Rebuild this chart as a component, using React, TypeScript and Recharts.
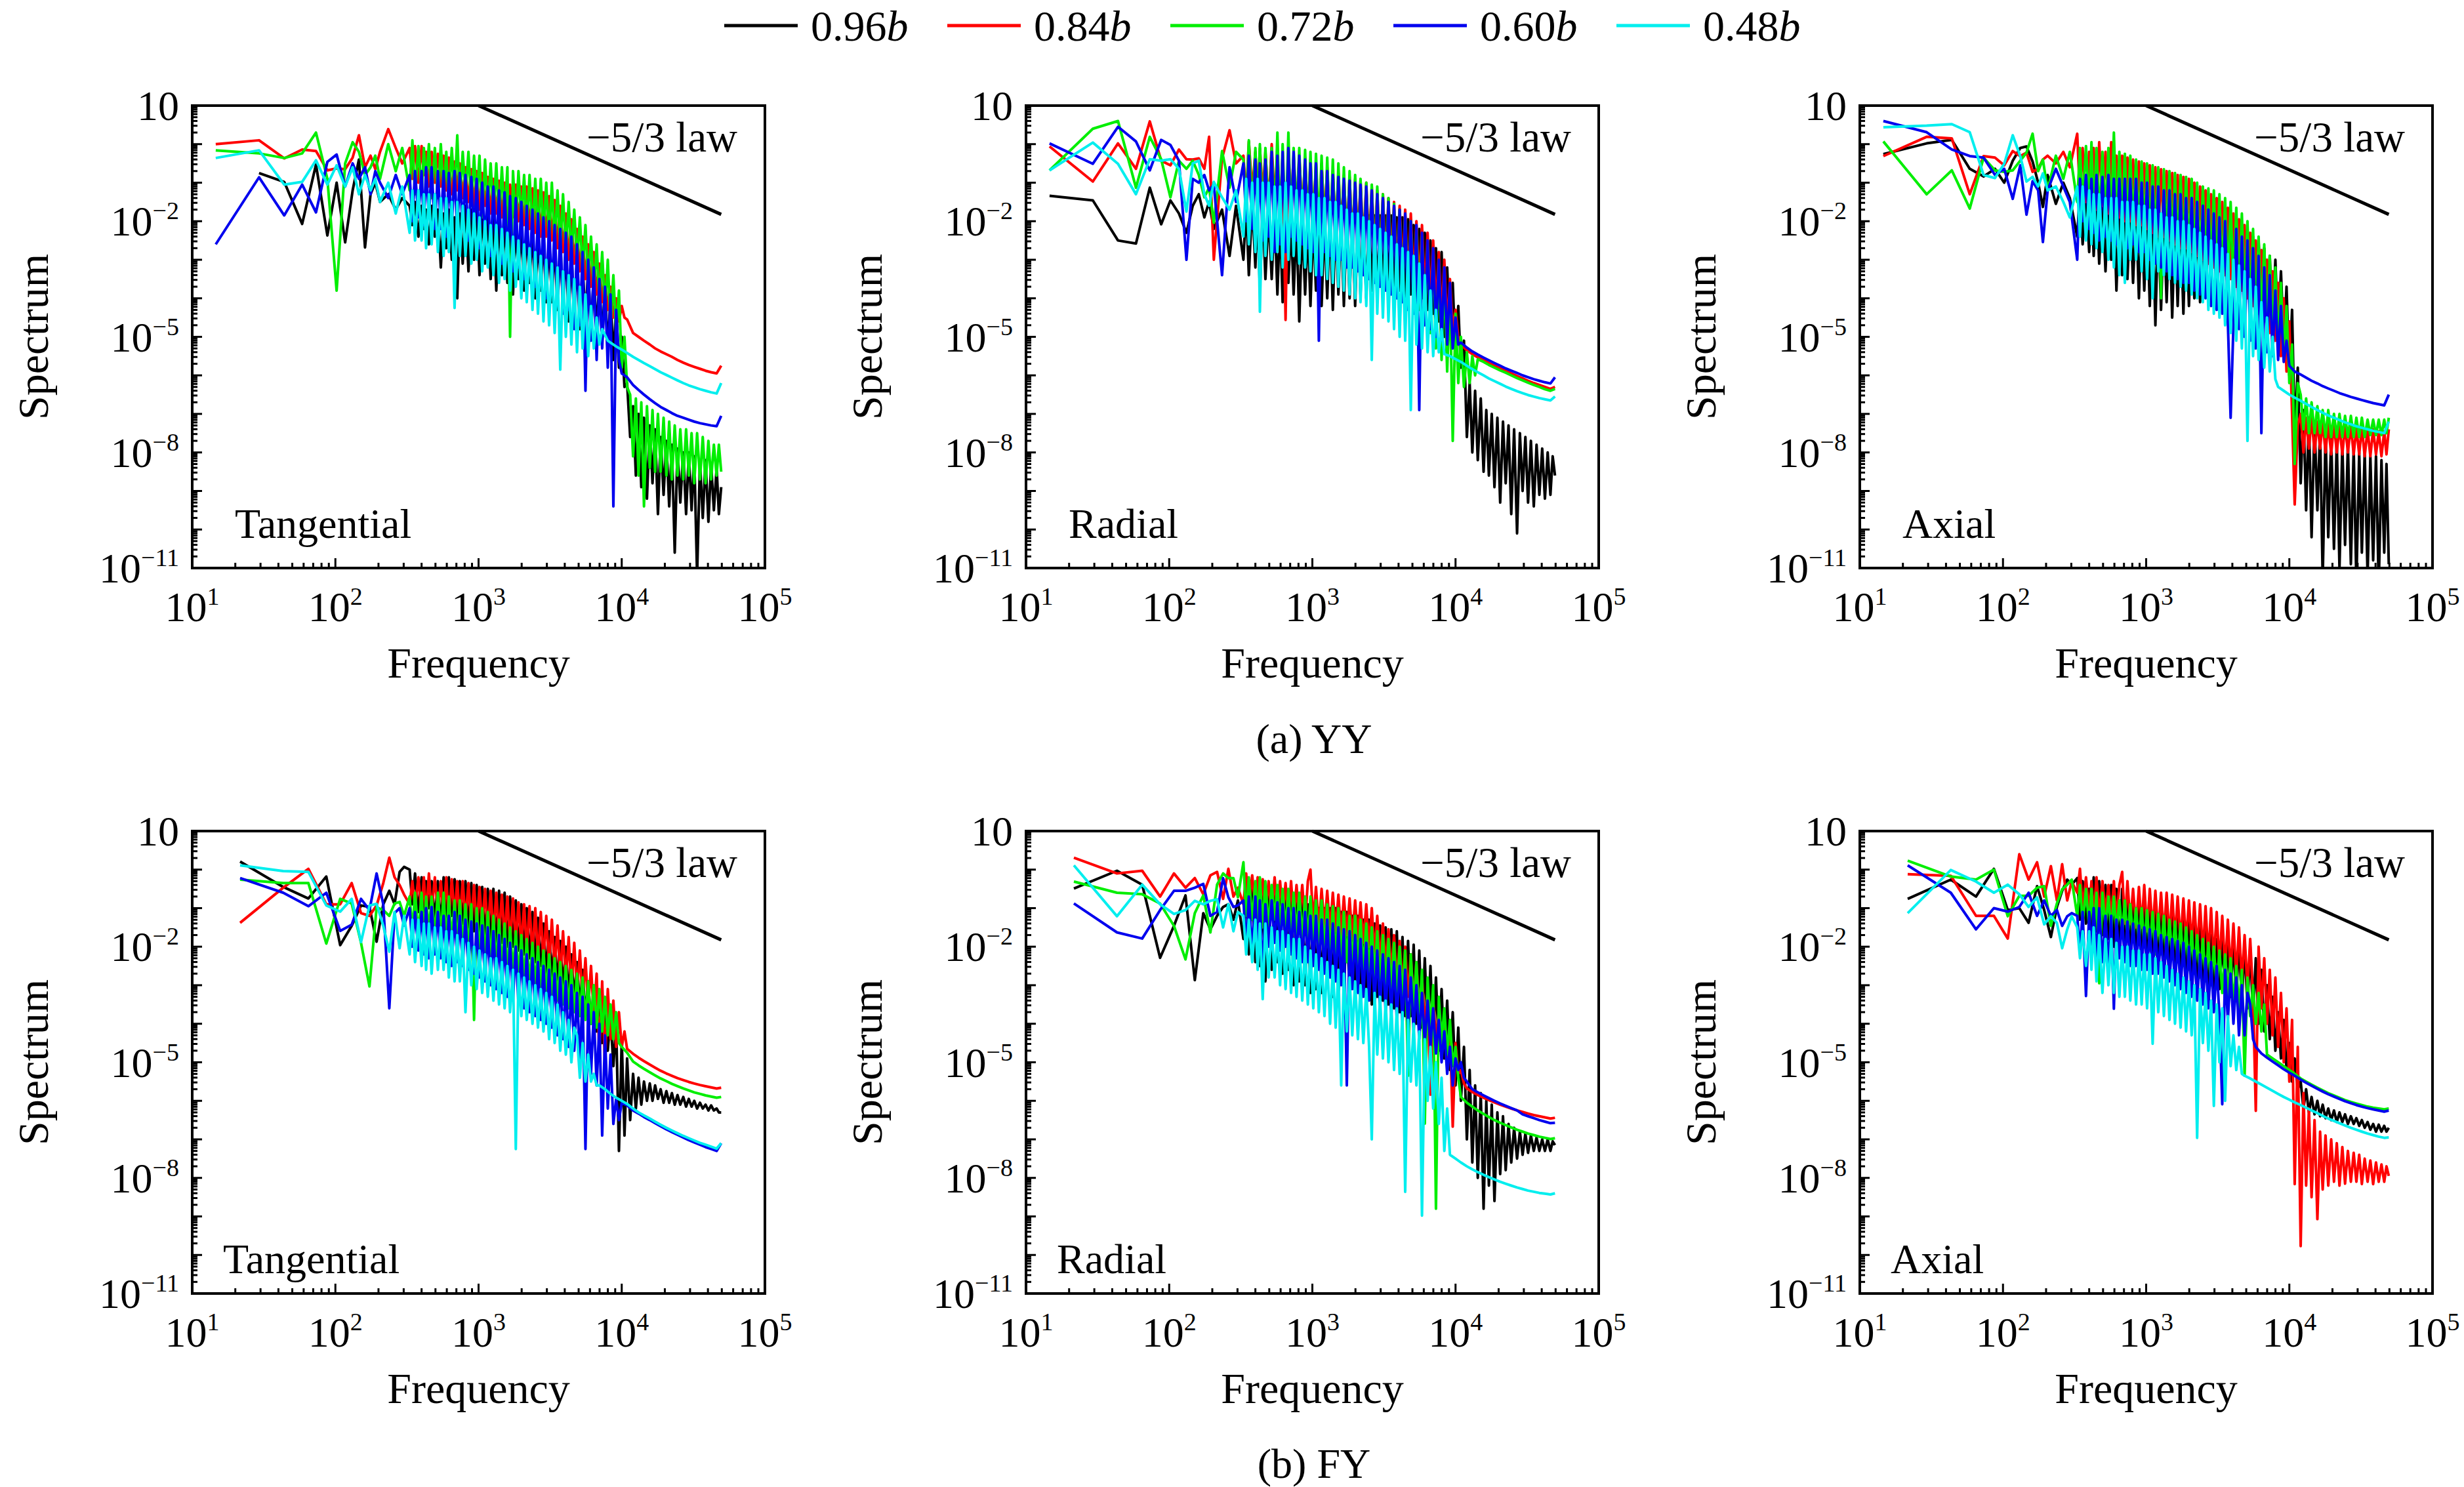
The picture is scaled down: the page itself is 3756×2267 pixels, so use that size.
import React from "react";
import { LineChart, Line, XAxis, YAxis, ReferenceArea, ReferenceLine } from "recharts";

const SERIF = '"Liberation Serif", "Times New Roman", Times, serif';
const W = 3756;
const H = 2267;

// frequency samples (Hz): low-frequency bins per case, shared high-frequency samples
const LF_YY = [14.6, 29.3, 43.9, 58.6, 73.2, 87.9, 102, 117, 132, 146, 161, 176, 190, 205, 234, 264, 293];
const LF_FY = [21.6, 43.2, 64.8, 86.4, 108, 130, 151, 173, 194, 216, 238, 259, 281, 302];
const HF = [
  330, 345, 360, 380, 400, 415, 430, 450, 470, 495,
  520, 545, 570, 595, 620, 650, 680, 710, 740, 775,
  810, 850, 890, 930, 970, 1015, 1060, 1110, 1160, 1215,
  1270, 1330, 1390, 1455, 1520, 1590, 1660, 1740, 1820, 1900,
  1990, 2080, 2170, 2270, 2380, 2490, 2600, 2720, 2840, 2970,
  3110, 3250, 3400, 3560, 3720, 3890, 4070, 4260, 4450, 4660,
  4870, 5100, 5330, 5580, 5830, 6100, 6380, 6680, 6980, 7300,
  7640, 7990, 8350, 8740, 9140, 9560, 10000, 10450, 10900, 11450,
  12000, 12550, 13100, 13700, 14300, 15000, 15700, 16400, 17100, 17900,
  18700, 19600, 20500, 21450, 22400, 23450, 24500, 25650, 26900, 28150,
  29400, 30750, 32100, 33600, 35200, 36800, 38500, 40300, 42100, 44000,
  46000, 47700, 49500,
];

// log10(spectrum); null = no sample drawn there
// (a) YY - Tangential
const yyTanK = [null, -0.75, -0.98, -2.07, -0.53, -2.37, -1.0, -2.55, -1.2, -0.4, -2.68, -1.3, -1.0, -1.5, -1.3, -1.7, -1.4,
  -1.6, -2.1, -1.5, -2.4, -1.6, -2.2, -1.7, -2.6, -1.6, -2.4,
  -1.7, -3.2, -1.8, -2.7, -1.7, -3.0, -1.9, -4.0, -1.8, -3.1,
  -1.6, -3.3, -1.7, -3.0, -1.6, -3.4, -1.7, -3.1, -1.8, -3.5,
  -1.8, -3.8, -1.9, -3.4, -1.9, -3.6, -2.0, -3.9, -2.0, -3.5,
  -2.1, -3.8, -2.1, -3.6, -2.2, -4.0, -2.3, -3.8, -2.3, -4.1,
  -2.4, -4.1, -2.5, -4.3, -2.5, -4.2, -2.7, -4.6, -2.8, -4.4,
  -3.0, -4.8, -3.1, -4.6, -3.2, -5.0, -3.3, -4.9, -3.5, -5.1,
  -3.6, -5.4, -3.9, -5.6, -4.2, -5.8, -5.0, -6.3, -6.2, -7.6,
  -6.8, -8.6, -7.0, -8.9, -7.1, -9.2, -7.3, -8.8, -7.4, -9.6,
  -7.6, -9.1, -7.7, -9.4, -7.8, -10.6, -7.9, -9.3, -8.0, -9.6,
  -8.0, -9.5, -8.1, -11.2, -8.2, -9.7, -8.2, -9.8, -8.3, -9.5,
  -8.4, -9.6, -8.9];
const yyTanR = [0.0, 0.1, -0.37, -0.14, -0.18, -0.68, -0.63, -0.65, -0.35, 0.23, -0.6, -0.3, -0.65, -0.2, 0.39, -0.1, -0.5,
  -0.1, -0.9, -0.05, -1.0, -0.05, -0.8, -0.2, -1.1, -0.2, -1.0,
  -0.25, -1.1, -0.3, -1.2, -0.35, -1.3, -0.45, -1.2, -0.5, -1.4,
  -0.6, -1.5, -0.65, -1.6, -0.7, -1.7, -0.75, -1.6, -0.85, -1.8,
  -0.9, -1.8, -0.95, -1.9, -1.0, -2.0, -1.05, -1.9, -1.05, -2.0,
  -1.1, -2.1, -1.1, -2.2, -1.15, -2.3, -1.2, -2.4, -1.25, -2.4,
  -1.35, -2.5, -1.45, -2.7, -1.6, -2.8, -1.8, -3.0, -1.95, -3.1,
  -2.2, -3.3, -2.4, -3.5, -2.6, -3.7, -2.8, -3.9, -3.1, -4.1,
  -3.4, -4.3, -3.7, -4.5, -4.0, -4.6, -4.2, -4.5, -4.55, null,
  -4.9, null, -5.0, null, -5.1, null, -5.2, null, -5.3, null,
  -5.38, null, -5.45, null, -5.52, null, -5.6, null, -5.67, null,
  -5.73, null, -5.78, null, -5.83, null, -5.88, null, -5.92, null,
  -5.95, null, -5.75];
const yyTanG = [-0.16, -0.24, -0.36, -0.24, 0.3, -0.9, -3.8, -0.5, 0.05, -0.2, -0.8, -0.6, -0.3, -0.9, 0.0, -0.7, -0.1,
  -1.2, 0.1, -1.3, -0.05, -1.3, -0.1, -1.0, 0.0, -1.4, -0.1,
  -1.4, 0.0, -1.3, -0.2, -1.5, -0.1, -1.3, 0.23, -1.5, -0.2,
  -1.3, -0.2, -1.6, -0.3, -1.5, -0.3, -1.9, -0.4, -1.7, -0.5,
  -1.8, -0.5, -2.0, -0.6, -1.9, -0.6, -5.0, -0.7, -2.1, -0.7,
  -2.0, -0.8, -2.2, -0.8, -2.3, -0.9, -2.4, -0.9, -2.4, -1.0,
  -2.5, -1.0, -2.6, -1.2, -2.7, -1.3, -2.8, -1.5, -2.9, -1.7,
  -3.1, -1.9, -3.3, -2.1, -3.6, -2.4, -3.8, -2.6, -4.1, -2.8,
  -4.3, -3.0, -4.7, -3.4, -4.9, -3.8, -5.8, -5.0, -6.3, -6.5,
  -8.1, -6.6, -8.6, -6.7, -9.4, -6.8, -8.4, -6.9, -8.5, -7.0,
  -8.5, -7.1, -8.6, -7.2, -8.7, -7.3, -8.6, -7.4, -8.7, -7.4,
  -8.6, -7.5, -8.8, -7.5, -8.7, -7.6, -8.8, -7.7, -8.7, -7.8,
  -8.6, -7.8, -8.5];
const yyTanB = [-2.6, -0.86, -1.85, -1.05, -1.77, -0.46, -0.27, -1.1, -0.5, -0.9, -0.6, -1.3, -0.7, -1.0, -1.4, -0.8, -1.3,
  -0.8, -2.0, -0.7, -1.9, -0.7, -2.1, -0.6, -1.9, -0.6, -2.2,
  -0.7, -2.2, -0.7, -2.4, -0.75, -2.1, -0.7, -2.3, -0.75, -2.2,
  -0.8, -2.5, -0.85, -2.4, -0.9, -2.7, -1.0, -2.6, -1.1, -2.9,
  -1.1, -2.8, -1.2, -3.1, -1.25, -3.0, -1.35, -3.3, -1.4, -3.2,
  -1.5, -3.5, -1.6, -3.4, -1.7, -3.7, -1.8, -3.6, -1.9, -4.0,
  -2.0, -3.9, -2.1, -4.2, -2.2, -4.4, -2.3, -4.3, -2.4, -4.8,
  -2.6, -4.7, -2.8, -6.4, -3.0, -5.1, -3.2, -5.6, -3.5, -5.3,
  -3.7, -5.8, -3.9, -9.4, -4.3, -5.6, -5.95, null, -6.05, null,
  -6.25, null, -6.38, null, -6.5, null, -6.62, null, -6.72, null,
  -6.82, null, -6.9, null, -6.98, null, -7.05, null, -7.1, null,
  -7.15, null, -7.2, null, -7.24, null, -7.27, null, -7.3, null,
  -7.32, null, -7.05];
const yyTanC = [-0.36, -0.16, -1.05, -0.98, -0.42, -1.05, -0.55, -1.1, -0.6, -1.3, -0.8, -1.2, -0.9, -1.5, -1.0, -1.8, -1.1,
  -2.3, -1.2, -2.5, -1.2, -2.5, -1.3, -2.7, -1.3, -2.6, -1.3,
  -2.8, -1.4, -2.9, -1.4, -2.8, -1.5, -4.25, -1.5, -2.9, -1.6,
  -2.9, -1.7, -3.1, -1.8, -3.0, -1.9, -3.3, -2.0, -3.2, -2.1,
  -3.4, -2.1, -3.6, -2.2, -3.5, -2.3, -3.8, -2.4, -3.7, -2.5,
  -4.0, -2.6, -4.1, -2.7, -4.3, -2.8, -4.4, -2.9, -4.6, -3.0,
  -4.7, -3.1, -4.9, -3.2, -5.85, -3.3, -5.0, -3.4, -5.2, -3.5,
  -5.4, -3.7, -5.3, -3.9, -5.5, -4.2, -5.3, -4.5, -5.2, -4.8,
  -4.95, -5.1, -5.15, null, -5.25, null, -5.33, null, -5.42, null,
  -5.52, null, -5.6, null, -5.68, null, -5.76, null, -5.84, null,
  -5.92, null, -5.99, null, -6.06, null, -6.13, null, -6.2, null,
  -6.26, null, -6.31, null, -6.36, null, -6.4, null, -6.44, null,
  -6.47, null, -6.2];

// (a) YY - Radial
const yyRadK = [-1.34, -1.46, -2.5, -2.58, -1.13, -2.08, -1.46, -1.8, -2.3, -1.6, -1.3, -1.9, -1.5, -2.2, -1.7, -2.9, -1.6,
  -3.0, -1.6, -3.4, -1.5, -3.2, -1.7, -3.8, -1.6, -3.5, -1.8,
  -3.5, -1.8, -3.9, -1.9, -4.1, -1.8, -3.6, -2.0, -3.9, -2.0,
  -4.6, -2.0, -3.9, -2.1, -4.2, -2.0, -3.8, -2.1, -4.2, -2.0,
  -4.0, -1.9, -4.3, -1.9, -3.9, -1.9, -4.2, -1.9, -4.0, -1.9,
  -4.2, -1.9, -3.9, -1.9, -4.0, -1.85, -3.8, -1.85, -3.9, -1.85,
  -3.8, -1.85, -3.7, -1.85, -3.9, -1.9, -3.8, -1.9, -4.0, -1.95,
  -3.9, -2.1, -4.1, -2.2, -4.0, -2.3, -4.3, -2.5, -4.4, -2.7,
  -4.6, -2.8, -5.0, -3.2, -4.9, -3.6, -5.5, -4.2, -5.8, -5.1,
  -7.6, -6.2, -8.0, -6.4, -8.2, -6.6, -8.5, -6.9, -8.6, -7.0,
  -8.9, -7.1, -9.3, -7.2, -8.8, -7.3, -9.6, -7.4, -10.1, -7.5,
  -9.0, -7.6, -9.3, -7.7, -9.4, -7.8, -9.1, -7.9, -9.2, -8.0,
  -9.1, -8.1, -8.6];
const yyRadR = [-0.06, -0.97, 0.02, -0.64, 0.59, -0.43, -0.55, -0.14, -0.39, -0.4, -0.37, -0.64, 0.19, -3.0, -0.37, 0.36, -0.5,
  -0.3, -1.4, 0.07, -1.2, -0.2, -1.5, -0.1, -1.3, -0.2, -1.6,
  0.0, -1.5, -0.2, -1.8, -0.3, -4.56, -0.1, -1.6, -0.3, -1.7,
  -0.3, -1.8, -0.35, -1.9, -0.4, -2.0, -0.5, -2.1, -0.5, -2.0,
  -0.6, -2.2, -0.7, -2.3, -0.75, -2.2, -0.8, -2.4, -0.85, -2.5,
  -0.9, -2.5, -0.95, -2.6, -1.0, -2.7, -1.1, -2.8, -1.2, -2.9,
  -1.3, -3.0, -1.4, -3.1, -1.5, -3.2, -1.6, -3.3, -1.7, -3.5,
  -1.8, -3.6, -2.0, -3.7, -2.1, -3.9, -2.3, -4.1, -2.5, -4.3,
  -2.8, -4.5, -3.0, -4.7, -3.5, -4.8, -4.3, -5.0, -5.2, null,
  -5.35, null, -5.45, null, -5.53, null, -5.6, null, -5.68, null,
  -5.75, null, -5.82, null, -5.88, null, -5.95, null, -6.02, null,
  -6.08, null, -6.14, null, -6.2, null, -6.25, null, -6.3, null,
  -6.35, null, -6.3];
const yyRadG = [-0.68, 0.4, 0.6, -1.13, 0.19, -0.39, -1.38, -0.43, -0.64, -0.43, -0.8, -1.38, -1.13, -2.04, -0.18, -1.13, -0.2,
  -0.4, -1.6, 0.1, -1.7, -0.1, -1.8, 0.0, -2.0, -0.1, -1.9,
  -0.1, -2.0, 0.3, -2.2, 0.0, -2.3, 0.3, -2.1, -0.1, -1.9,
  -0.1, -2.2, -0.15, -2.3, -0.2, -2.4, -0.25, -2.3, -0.3, -2.5,
  -0.35, -2.6, -0.4, -2.7, -0.5, -2.7, -0.6, -2.8, -0.7, -2.9,
  -0.8, -3.0, -0.9, -3.0, -1.0, -3.1, -1.05, -3.2, -1.1, -3.3,
  -1.3, -3.4, -1.4, -3.5, -1.55, -3.6, -1.7, -3.8, -1.85, -3.9,
  -2.0, -4.1, -2.2, -4.3, -2.4, -4.6, -2.6, -4.9, -2.9, -5.3,
  -3.1, -5.6, -3.4, -5.9, -3.8, -7.7, -4.4, -6.2, -5.0, -6.3,
  -5.4, -6.2, -5.5, -6.0, -5.58, null, -5.65, null, -5.73, null,
  -5.8, null, -5.87, null, -5.93, null, -6.0, null, -6.07, null,
  -6.13, null, -6.19, null, -6.25, null, -6.3, null, -6.36, null,
  -6.4, null, -6.35];
const yyRadB = [0.02, -0.51, 0.45, 0.07, -0.68, 0.11, -0.02, -0.43, -3.0, -0.9, -1.0, -0.8, -1.2, -1.05, -3.4, -0.6, -1.5,
  -0.5, -2.0, -0.3, -2.2, -0.4, -2.3, -0.5, -2.5, -0.4, -2.4,
  -0.2, -2.8, -0.3, -2.6, -0.2, -2.8, -0.1, -2.4, -0.2, -2.5,
  -0.3, -2.6, -0.4, -2.7, -0.5, -2.8, -0.5, -5.1, -0.7, -2.8,
  -0.7, -2.9, -0.8, -3.0, -0.85, -3.0, -0.9, -3.2, -0.95, -3.2,
  -1.0, -3.3, -1.05, -3.4, -1.1, -3.5, -1.2, -3.6, -1.3, -3.7,
  -1.4, -3.8, -1.5, -3.9, -1.6, -4.0, -1.7, -4.1, -1.8, -4.3,
  -2.0, -4.4, -2.1, -6.9, -2.3, -4.7, -2.5, -4.8, -2.7, -5.0,
  -3.0, -5.1, -3.2, -5.2, -3.6, -5.3, -4.5, -5.2, -5.15, null,
  -5.28, null, -5.38, null, -5.46, null, -5.54, null, -5.61, null,
  -5.68, null, -5.75, null, -5.82, null, -5.88, null, -5.94, null,
  -6.0, null, -6.05, null, -6.1, null, -6.14, null, -6.18, null,
  -6.21, null, -6.05];
const yyRadC = [-0.68, 0.04, -0.51, -1.3, -0.39, -0.43, -0.39, -0.64, -1.75, -0.5, -0.43, -1.3, -1.6, -0.98, -1.38, -1.7, -1.2,
  -2.4, -0.9, -2.6, -1.0, -2.8, -0.9, -4.35, -1.0, -2.9, -1.0,
  -3.0, -1.1, -2.8, -1.1, -3.2, -1.0, -3.0, -1.1, -2.9, -1.2,
  -3.1, -1.2, -3.2, -1.3, -3.3, -1.3, -3.4, -1.4, -3.4, -1.4,
  -3.5, -1.5, -3.6, -1.5, -3.7, -1.6, -3.8, -1.7, -3.9, -1.8,
  -4.0, -1.8, -4.1, -1.9, -4.2, -2.0, -5.6, -2.1, -4.4, -2.2,
  -4.5, -2.3, -4.6, -2.4, -4.8, -2.6, -5.0, -2.7, -5.1, -2.8,
  -6.9, -2.9, -5.2, -3.1, -5.3, -3.4, -5.4, -3.8, -5.5, -4.3,
  -5.4, -4.8, -5.45, null, -5.5, null, -5.58, null, -5.65, null,
  -5.75, null, -5.84, null, -5.92, null, -6.0, null, -6.08, null,
  -6.15, null, -6.22, null, -6.29, null, -6.35, null, -6.41, null,
  -6.46, null, -6.51, null, -6.55, null, -6.59, null, -6.62, null,
  -6.65, null, -6.55];

// (a) YY - Axial
const yyAxK = [-0.26, 0.02, 0.11, -0.64, -0.84, -0.64, -1.0, -0.43, -0.1, -0.06, -0.45, -1.0, -1.63, -0.8, -1.55, -1.0, -1.4,
  -2.4, -1.2, -2.6, -1.3, -2.8, -1.3, -2.9, -1.4, -3.1, -1.4,
  -3.3, -1.5, -3.0, -1.5, -3.8, -1.6, -3.4, -1.6, -3.5, -1.7,
  -3.6, -1.7, -4.0, -1.8, -3.8, -1.8, -4.2, -1.8, -4.7, -1.9,
  -4.3, -1.9, -4.1, -1.9, -4.5, -2.0, -4.2, -2.0, -4.4, -2.0,
  -4.2, -2.0, -4.0, -2.0, -4.1, -2.0, -3.9, -2.0, -3.8, -1.95,
  -3.9, -1.95, -3.8, -1.95, -3.9, -1.95, -4.0, -2.0, -4.0, -2.1,
  -4.1, -2.2, -4.2, -2.4, -4.3, -2.5, -4.5, -2.7, -4.6, -2.9,
  -4.8, -3.0, -5.0, -3.3, -5.2, -3.7, -6.0, -4.3, -7.5, -5.8,
  -8.8, -6.9, -9.5, -7.1, -10.2, -7.2, -9.5, -7.4, -11.3, -7.5,
  -10.2, -7.6, -10.5, -7.7, -11.0, -7.8, -10.4, -7.8, -10.9, -7.9,
  -11.4, -8.0, -10.6, -8.0, -11.2, -8.1, -10.8, -8.1, -11.5, -8.2,
  -10.6, -8.3, -10.9];
const yyAxR = [-0.31, 0.19, 0.15, -1.3, -0.31, -0.35, -0.55, -0.18, -0.31, -0.22, -0.72, -0.64, -0.4, -0.3, -0.5, -0.2, -0.6,
  0.27, -1.4, -0.1, -1.5, -0.2, -1.5, -0.1, -1.7, 0.05, -1.6,
  -0.2, -1.8, 0.05, -1.7, -0.3, -1.9, -0.3, -2.0, -0.35, -2.0,
  -0.4, -2.1, -0.45, -2.1, -0.5, -2.2, -0.55, -2.3, -0.6, -2.4,
  -0.65, -2.4, -0.7, -2.5, -0.75, -2.6, -0.8, -2.7, -0.85, -2.7,
  -0.9, -2.8, -1.0, -2.9, -1.1, -3.0, -1.2, -3.1, -1.3, -3.2,
  -1.4, -3.3, -1.5, -3.4, -1.65, -3.5, -1.8, -3.7, -1.95, -3.8,
  -2.1, -4.0, -2.3, -4.2, -2.5, -4.4, -2.75, -4.6, -3.0, -4.9,
  -3.3, -5.1, -3.6, -5.5, -4.0, -5.9, -4.6, -7.0, -9.35, -7.3,
  -7.0, -8.0, -7.1, -7.9, -7.1, -8.0, -7.2, -7.9, -7.2, -8.0,
  -7.25, -8.05, -7.25, -8.0, -7.3, -8.05, -7.3, -8.0, -7.3, -8.05,
  -7.35, -8.05, -7.35, -8.1, -7.4, -8.1, -7.4, -8.05, -7.45, -8.1,
  -7.45, -8.05, -7.4];
const yyAxG = [0.07, -1.3, -0.68, -1.67, -0.35, -0.68, -0.72, -0.68, -0.43, -0.22, 0.27, -0.7, -0.4, -1.2, -0.3, -0.9, -0.2,
  -1.5, -0.1, -1.6, -0.05, -1.7, 0.05, -1.8, -0.1, -1.9, -0.2,
  -1.8, -0.1, -2.0, 0.3, -1.9, -0.2, -2.0, -0.25, -2.1, -0.3,
  -2.1, -0.4, -2.2, -0.45, -2.3, -0.5, -2.4, -0.55, -2.4, -0.6,
  -4.0, -0.65, -2.5, -0.7, -2.6, -0.75, -2.7, -0.8, -2.8, -0.85,
  -2.9, -0.9, -3.0, -1.0, -3.1, -1.1, -3.2, -1.15, -3.3, -1.2,
  -3.4, -1.3, -3.5, -1.4, -3.6, -1.5, -3.7, -1.65, -3.8, -1.8,
  -4.0, -2.0, -4.2, -2.2, -4.4, -2.4, -4.6, -2.6, -4.8, -2.9,
  -5.0, -3.2, -5.3, -3.6, -5.6, -4.2, -6.2, -5.2, -8.3, -6.2,
  -6.5, -7.4, -6.6, -7.5, -6.7, -7.5, -6.8, -7.5, -6.9, -7.6,
  -6.9, -7.6, -7.0, -7.6, -7.0, -7.6, -7.05, -7.6, -7.05, -7.6,
  -7.1, -7.6, -7.1, -7.6, -7.15, -7.55, -7.15, -7.55, -7.15, -7.55,
  -7.15, -7.5, -7.1];
const yyAxB = [0.6, 0.31, -0.14, -0.31, -0.35, -0.8, -0.64, -1.42, -0.55, -1.83, -0.96, -1.2, -2.54, -1.2, -0.64, -1.1, -1.5,
  -3.0, -0.9, -2.0, -0.8, -2.2, -0.9, -2.3, -0.8, -2.5, -0.85,
  -2.4, -0.8, -2.5, -0.9, -2.6, -0.9, -2.4, -0.9, -2.7, -0.9,
  -2.6, -0.9, -2.8, -1.0, -2.8, -1.0, -3.0, -1.1, -3.1, -1.1,
  -3.2, -1.2, -3.3, -1.2, -3.4, -1.3, -3.5, -1.3, -3.6, -1.4,
  -3.6, -1.4, -3.8, -1.5, -3.9, -1.6, -4.0, -1.7, -4.2, -1.8,
  -4.3, -1.9, -4.4, -2.0, -4.6, -7.1, -4.7, -2.2, -4.8, -2.4,
  -5.0, -2.5, -5.1, -2.7, -5.3, -2.9, -7.5, -3.2, -5.4, -3.4,
  -5.5, -3.8, -5.6, -4.2, -5.65, -5.1, -5.75, null, -5.9, null,
  -5.98, null, -6.06, null, -6.14, null, -6.21, null, -6.28, null,
  -6.34, null, -6.4, null, -6.46, null, -6.51, null, -6.56, null,
  -6.6, null, -6.64, null, -6.68, null, -6.72, null, -6.75, null,
  -6.78, null, -6.5];
const yyAxC = [0.44, 0.48, 0.52, 0.31, -0.8, -0.88, -0.51, 0.23, -0.31, -0.97, -0.85, -1.1, -0.76, -1.2, -1.1, -1.5, -1.9,
  -1.1, -2.4, -1.1, -2.5, -1.2, -2.6, -1.3, -2.7, -1.3, -2.8,
  -1.4, -3.0, -1.4, -3.2, -1.4, -3.4, -1.5, -3.6, -1.5, -3.0,
  -1.5, -3.0, -1.6, -3.3, -1.6, -3.5, -1.7, -4.0, -1.7, -3.3,
  -1.8, -3.4, -1.9, -3.5, -1.9, -3.6, -2.0, -3.7, -2.0, -3.8,
  -2.1, -3.9, -2.2, -4.0, -2.3, -4.1, -2.4, -4.3, -2.5, -4.4,
  -2.6, -4.5, -2.7, -4.7, -2.85, -4.9, -3.0, -5.1, -3.15, -5.3,
  -3.3, -7.7, -3.5, -5.5, -3.7, -5.6, -4.1, -5.8, -4.5, -5.9,
  -5.0, -6.1, -6.3, null, -6.4, null, -6.5, null, -6.58, null,
  -6.66, null, -6.74, null, -6.82, null, -6.9, null, -6.97, null,
  -7.04, null, -7.1, null, -7.16, null, -7.22, null, -7.27, null,
  -7.32, null, -7.36, null, -7.4, null, -7.44, null, -7.47, null,
  -7.5, null, -7.2];

// (b) FY - Tangential
const fyTanK = [0.21, -0.45, -0.75, -0.18, -1.96, -1.46, -0.93, -0.97, -1.87, -0.9, -0.55, -0.9, -0.06, 0.07,
  0.0, -0.9, -0.1, -1.1, -0.2, -1.2, -0.3, -1.0, -0.3, -1.3,
  -0.3, -1.5, -0.2, -1.4, -0.2, -1.2, -0.25, -1.5, -0.3, -1.4,
  -0.3, -1.5, -0.35, -1.6, -0.4, -1.6, -0.45, -1.8, -0.5, -1.8,
  -0.5, -1.9, -0.55, -1.9, -0.6, -2.0, -0.7, -2.0, -0.8, -2.1,
  -0.9, -2.2, -1.0, -2.3, -1.1, -2.4, -1.25, -2.5, -1.4, -2.7,
  -1.6, -2.8, -1.75, -3.0, -1.85, -3.1, -2.0, -3.3, -2.2, -3.4,
  -2.4, -3.6, -2.6, -3.8, -2.9, -4.0, -3.1, -4.2, -3.3, -4.5,
  -3.6, -4.7, -3.8, -5.1, -4.0, -7.3, -4.4, -6.9, -4.9, -6.5,
  -5.3, -6.2, -5.4, -6.1, -5.5, -6.0, -5.55, -6.0, -5.6, -5.95,
  -5.7, -6.05, -5.75, -6.05, -5.8, -6.1, -5.85, -6.1, -5.9, -6.15,
  -5.95, -6.15, -6.0, -6.2, -6.05, -6.2, -6.1, -6.25, -6.12, -6.25,
  -6.2, -6.3, -6.3];
const fyTanR = [-1.38, -0.47, 0.02, -0.9, -0.9, -0.35, -1.13, -1.2, -0.93, -0.35, 0.31, -0.2, -0.4, -0.65,
  -0.9, -0.3, -1.0, -0.2, -1.1, -0.2, -1.2, -0.1, -1.1, -0.2,
  -1.1, -0.3, -1.2, -0.2, -1.3, -0.25, -1.2, -0.3, -1.3, -0.3,
  -1.3, -0.35, -1.4, -0.4, -1.5, -0.45, -1.5, -0.5, -1.6, -0.55,
  -1.7, -0.6, -1.7, -0.65, -1.8, -0.7, -1.9, -0.75, -1.9, -0.85,
  -2.0, -0.9, -2.1, -0.95, -2.2, -1.0, -2.3, -1.1, -2.4, -1.2,
  -2.5, -1.3, -2.6, -1.45, -2.8, -1.6, -2.9, -1.75, -3.1, -1.9,
  -3.2, -2.1, -3.4, -2.3, -3.6, -2.5, -3.8, -2.7, -4.9, -2.9,
  -5.1, -3.1, -4.4, -3.4, -4.6, -3.7, -4.6, -4.2, -4.65, null,
  -4.78, null, -4.88, null, -4.97, null, -5.06, null, -5.14, null,
  -5.22, null, -5.29, null, -5.35, null, -5.41, null, -5.46, null,
  -5.51, null, -5.55, null, -5.59, null, -5.62, null, -5.65, null,
  -5.68, null, -5.66];
const fyTanG = [-0.26, -0.35, -0.35, -1.92, -0.76, -0.88, -1.9, -3.03, -0.98, -1.05, -1.2, -0.88, -0.84, -1.2,
  -0.7, -1.6, -0.6, -1.7, -0.6, -1.8, -0.7, -1.6, -0.7, -1.7,
  -0.6, -1.8, -0.6, -1.9, -0.7, -1.9, -0.8, -2.0, -0.8, -2.0,
  -0.9, -2.1, -0.9, -3.9, -1.0, -2.2, -1.0, -2.3, -1.1, -2.4,
  -1.2, -2.5, -1.3, -2.6, -1.4, -2.7, -1.5, -2.7, -1.6, -2.8,
  -1.7, -2.9, -1.8, -3.0, -1.9, -3.05, -2.0, -3.1, -2.1, -3.2,
  -2.2, -3.3, -2.3, -3.4, -2.4, -3.5, -2.5, -3.6, -2.6, -3.7,
  -2.7, -3.8, -2.8, -3.9, -2.9, -4.0, -3.0, -4.1, -3.1, -4.2,
  -3.3, -4.3, -3.5, -4.4, -3.7, -4.5, -4.6, null, -4.75, null,
  -4.98, null, -5.08, null, -5.17, null, -5.26, null, -5.34, null,
  -5.42, null, -5.49, null, -5.56, null, -5.62, null, -5.68, null,
  -5.73, null, -5.78, null, -5.82, null, -5.86, null, -5.89, null,
  -5.92, null, -5.9];
const fyTanB = [-0.22, -0.6, -0.95, -0.6, -1.59, -1.43, -0.76, -1.05, -0.1, -0.9, -3.6, -1.13, -1.0, -1.45,
  -1.0, -2.0, -1.1, -2.1, -1.1, -2.2, -1.0, -2.3, -0.97, -2.2,
  -1.1, -2.3, -1.2, -2.4, -1.2, -2.5, -1.1, -2.4, -1.2, -2.5,
  -1.3, -2.6, -1.35, -2.7, -1.4, -2.8, -1.45, -2.9, -1.5, -3.0,
  -1.6, -3.1, -1.7, -3.2, -1.8, -3.3, -1.9, -3.4, -2.0, -3.5,
  -2.1, -3.6, -2.2, -3.7, -2.3, -3.8, -2.4, -3.9, -2.5, -4.0,
  -2.6, -4.1, -2.7, -4.3, -2.8, -4.4, -2.9, -4.6, -3.0, -4.7,
  -3.2, -4.9, -3.3, -7.25, -3.5, -5.3, -3.7, -5.6, -4.0, -6.9,
  -4.3, -6.2, -4.8, -6.6, -5.95, -6.5, -6.05, null, -6.12, null,
  -6.25, null, -6.33, null, -6.42, null, -6.5, null, -6.58, null,
  -6.66, null, -6.74, null, -6.81, null, -6.88, null, -6.95, null,
  -7.02, null, -7.08, null, -7.14, null, -7.2, null, -7.25, null,
  -7.3, null, -7.1];
const fyTanC = [0.11, -0.04, -0.06, -0.93, -1.09, -0.76, -1.88, -0.93, -0.89, -1.46, -2.13, -1.1, -2.04, -1.2,
  -2.2, -1.3, -2.4, -1.3, -2.5, -1.4, -2.6, -1.4, -2.7, -1.5,
  -2.6, -1.5, -2.6, -1.6, -2.8, -1.6, -2.9, -1.7, -2.9, -1.8,
  -3.7, -1.9, -3.0, -2.0, -3.1, -2.1, -3.2, -2.2, -3.3, -2.3,
  -3.4, -2.3, -3.5, -2.4, -3.6, -2.5, -3.7, -2.6, -7.25, -2.7,
  -3.8, -2.8, -3.9, -2.9, -4.0, -3.0, -4.1, -3.1, -4.2, -3.2,
  -4.4, -3.3, -4.5, -3.5, -4.7, -3.7, -4.8, -3.9, -5.0, -4.1,
  -4.3, -5.4, -4.5, -5.5, -4.8, -5.5, -5.3, -5.6, -5.6, null,
  -5.7, null, -5.82, null, -5.92, null, -6.0, null, -6.08, null,
  -6.2, null, -6.3, null, -6.38, null, -6.46, null, -6.54, null,
  -6.62, null, -6.7, null, -6.77, null, -6.84, null, -6.91, null,
  -6.97, null, -7.03, null, -7.09, null, -7.14, null, -7.19, null,
  -7.24, null, -7.1];

// (b) FY - Radial
const fyRadK = [-0.49, -0.03, -0.39, -2.29, -1.46, -0.67, -2.87, -1.13, -1.55, -1.2, -0.97, -0.9, -1.3, -0.8,
  -1.8, -0.5, -2.2, -0.5, -2.4, -0.6, -2.5, -0.6, -2.9, -0.7,
  -2.6, -0.5, -2.4, -0.6, -2.7, -0.6, -2.6, -0.7, -3.0, -0.8,
  -2.9, -0.8, -3.0, -0.9, -3.2, -0.9, -3.1, -1.0, -3.2, -1.0,
  -3.0, -1.0, -3.3, -1.0, -3.4, -1.1, -3.2, -1.1, -3.3, -1.2,
  -3.2, -1.2, -3.5, -1.3, -3.4, -1.3, -3.5, -1.4, -3.3, -1.45,
  -3.4, -1.5, -3.5, -1.55, -3.6, -1.6, -3.7, -1.75, -3.8, -1.85,
  -3.8, -1.95, -4.0, -2.1, -4.1, -2.3, -4.3, -2.5, -4.5, -2.8,
  -4.7, -3.1, -4.9, -3.4, -5.2, -3.7, -5.6, -4.1, -6.0, -4.6,
  -7.0, -5.2, -7.6, -5.6, -8.0, -5.8, -8.8, -6.0, -8.2, -6.1,
  -8.6, -6.3, -7.9, -6.4, -7.8, -6.6, -7.6, -6.7, -7.5, -6.8,
  -7.4, -6.85, -7.35, -6.9, -7.3, -6.95, -7.3, -7.0, -7.3, -7.0,
  -7.3, -7.05, -7.15];
const fyRadR = [0.31, -0.1, -0.03, -0.7, -0.1, -0.47, -0.22, -0.64, -0.15, -0.06, -0.76, 0.02, -0.7, -0.47,
  -0.9, -0.1, -1.0, -0.15, -1.0, -0.2, -1.1, -0.25, -1.1, -0.3,
  -1.2, -0.2, -1.1, -0.3, -1.2, -0.35, -1.3, -0.3, -1.3, -0.4,
  -1.3, -0.4, -1.4, -0.3, 0.0, -1.4, -0.45, -1.5, -0.5, -1.5,
  -0.55, -1.6, -0.6, -1.6, -0.65, -1.7, -0.7, -1.7, -0.75, -1.8,
  -0.8, -1.8, -0.85, -1.9, -0.9, -2.0, -1.0, -2.2, -1.2, -2.4,
  -1.4, -2.5, -1.55, -2.7, -1.7, -2.9, -1.85, -3.1, -2.0, -3.3,
  -2.2, -3.5, -2.4, -3.7, -2.8, -4.0, -3.2, -5.84, -3.4, -4.4,
  -3.7, -4.7, -3.9, -5.0, -4.1, -6.67, -4.5, -5.3, -5.2, -5.55,
  -5.68, null, -5.77, null, -5.85, null, -5.92, null, -5.98, null,
  -6.04, null, -6.1, null, -6.15, null, -6.2, null, -6.25, null,
  -6.29, null, -6.33, null, -6.37, null, -6.4, null, -6.43, null,
  -6.46, null, -6.44];
const fyRadG = [-0.31, -0.6, -0.64, -0.88, -1.46, -2.33, -1.13, -0.67, -1.63, -0.39, -0.1, -0.22, -0.22, -0.72,
  0.19, -1.2, -0.2, -1.3, -0.3, -1.4, -0.2, -1.5, -0.3, -1.5,
  -0.4, -1.3, -0.4, -1.5, -0.5, -1.6, -0.5, -1.7, -0.6, -1.7,
  -0.6, -1.8, -0.7, -1.9, -0.7, -1.9, -0.8, -2.0, -0.8, -2.1,
  -0.9, -2.2, -0.95, -2.3, -1.0, -2.4, -1.1, -2.4, -1.2, -2.5,
  -1.2, -2.5, -1.3, -2.6, -1.4, -2.7, -1.5, -2.8, -1.6, -2.9,
  -1.7, -3.0, -1.8, -3.1, -1.9, -3.2, -2.0, -3.3, -2.1, -5.35,
  -2.2, -3.6, -2.4, -3.9, -2.6, -6.59, -2.8, -4.2, -3.0, -8.8,
  -3.3, -4.5, -3.6, -4.8, -3.9, -5.1, -4.6, -5.4, -5.9, null,
  -6.05, null, -6.15, null, -6.25, null, -6.34, null, -6.42, null,
  -6.5, null, -6.57, null, -6.63, null, -6.69, null, -6.75, null,
  -6.8, null, -6.85, null, -6.89, null, -6.93, null, -6.96, null,
  -6.99, null, -6.97];
const fyRadB = [-0.88, -1.63, -1.79, -1.05, -0.55, -0.55, -0.47, -0.37, -1.2, -1.1, -0.22, -0.72, -0.97, -0.93,
  -0.8, -2.0, -0.7, -2.1, -0.7, -2.3, -0.8, -2.79, -0.9, -2.0,
  -0.8, -1.9, -0.85, -2.1, -0.9, -2.0, -1.0, -2.2, -1.0, -2.3,
  -1.1, -2.4, -1.1, -2.4, -1.2, -2.5, -1.2, -2.6, -1.3, -2.7,
  -1.3, -2.8, -1.4, -2.9, -1.5, -3.0, -1.55, -5.6, -1.6, -3.1,
  -1.7, -3.2, -1.8, -3.3, -1.9, -3.4, -2.0, -3.5, -2.1, -3.6,
  -2.2, -3.7, -2.3, -3.8, -2.4, -3.9, -2.5, -4.0, -2.6, -4.1,
  -2.8, -4.2, -3.0, -4.4, -3.2, -4.5, -3.4, -4.6, -3.6, -4.77,
  -3.9, -5.0, -4.2, -5.3, -4.6, -5.6, -4.9, -5.2, -5.0, -5.4,
  -5.5, null, -5.7, null, -5.78, null, -5.86, null, -5.93, null,
  -6.0, null, -6.07, null, -6.13, null, -6.19, null, -6.25, null,
  -6.35, null, -6.4, null, -6.45, null, -6.5, null, -6.54, null,
  -6.58, null, -6.57];
const fyRadC = [0.11, -1.21, -0.39, -0.9, -1.15, -1.05, -0.81, -0.9, -0.81, -0.77, -1.5, -0.9, -1.6, -1.1,
  -1.2, -2.2, -1.3, -2.4, -1.3, -2.6, -1.4, -3.36, -1.4, -2.8,
  -1.5, -2.8, -1.6, -3.0, -1.6, -3.1, -1.7, -3.2, -1.8, -3.3,
  -1.8, -3.4, -2.0, -3.5, -2.1, -3.6, -2.2, -3.7, -2.3, -3.8,
  -2.4, -4.0, -2.5, -4.1, -2.6, -5.6, -2.7, -4.2, -2.8, -4.3,
  -2.9, -4.4, -3.0, -4.5, -3.1, -4.6, -7.0, -3.2, -4.8, -3.3,
  -4.9, -3.4, -5.0, -3.5, -5.2, -3.6, -5.3, -3.7, -8.36, -3.9,
  -5.5, -4.0, -5.6, -4.2, -8.98, -4.4, -6.0, -4.6, -6.2, -5.0,
  -6.6, -5.4, -7.3, -6.2, -7.4, null, -7.5, null, -7.6, null,
  -7.7, null, -7.78, null, -7.85, null, -7.92, null, -7.98, null,
  -8.04, null, -8.1, null, -8.15, null, -8.2, null, -8.25, null,
  -8.29, null, -8.33, null, -8.36, null, -8.39, null, -8.41, null,
  -8.43, null, -8.4];

// (b) FY - Axial
const fyAxK = [-0.76, -0.26, -0.7, 0.02, -1.05, -1.0, -1.38, -0.43, -1.05, -1.75, -0.97, -0.55, -0.26, -0.39,
  -0.22, -1.3, -0.3, -1.4, -0.5, -1.5, -0.2, -1.6, -0.3, -1.7,
  -0.4, -1.8, -0.4, -2.0, -0.5, -2.1, -0.5, -2.2, -0.6, -2.2,
  -0.7, -2.1, -0.75, -2.2, -0.8, -2.3, -0.85, -2.3, -0.9, -2.4,
  -1.0, -2.5, -1.0, -2.6, -1.05, -2.6, -1.1, -2.5, -1.15, -2.7,
  -1.2, -2.8, -1.3, -2.9, -1.4, -3.0, -1.5, -3.0, -1.7, -3.1,
  -1.8, -3.1, -1.85, -3.2, -1.85, -3.3, -1.75, -3.4, -1.75, -3.5,
  -1.9, -3.6, -2.0, -3.8, -2.3, -4.0, -2.6, -4.2, -3.0, -4.4,
  -3.3, -4.7, -3.7, -4.9, -3.9, -5.2, -4.5, -5.5, -4.9, -5.7,
  -5.5, -6.2, -5.7, -6.3, -5.9, -6.35, -6.0, -6.4, -6.1, -6.45,
  -6.2, -6.5, -6.25, -6.55, -6.3, -6.55, -6.35, -6.6, -6.4, -6.6,
  -6.45, -6.65, -6.5, -6.7, -6.55, -6.75, -6.6, -6.8, -6.62, -6.8,
  -6.65, -6.8, -6.7];
const fyAxR = [-0.12, -0.16, -1.2, -1.2, -1.79, 0.4, -0.26, 0.19, -0.7, 0.09, -0.8, 0.14, -0.8, -0.3,
  -0.6, 0.02, -1.0, -0.2, -1.1, -0.3, -1.2, -0.2, -1.2, -0.3,
  -1.1, -0.4, -1.3, -0.3, -1.3, -0.4, -0.06, -1.4, -0.3, -1.4,
  -0.5, -1.5, -0.45, -1.5, -0.4, -1.6, -0.5, -1.6, -0.55, -1.7,
  -0.6, -1.7, -0.6, -1.8, -0.65, -1.8, -0.7, -1.9, -0.75, -1.9,
  -0.8, -2.0, -0.85, -2.1, -0.9, -2.2, -0.95, -2.3, -1.0, -2.4,
  -1.1, -2.5, -1.2, -2.6, -1.3, -2.7, -1.4, -2.8, -1.5, -2.9,
  -1.7, -3.1, -1.8, -3.3, -6.26, -2.0, -3.6, -2.3, -4.0, -2.6,
  -4.3, -2.8, -4.6, -3.2, -5.0, -3.6, -5.5, -3.9, -8.16, -4.6,
  -9.77, -5.8, -8.2, -6.2, -8.5, -6.5, -9.07, -6.8, -8.3, -6.9,
  -8.2, -7.0, -8.1, -7.1, -8.2, -7.2, -8.15, -7.3, -8.1, -7.35,
  -8.1, -7.4, -8.16, -7.5, -8.1, -7.55, -8.16, -7.6, -8.1, -7.65,
  -8.1, -7.7, -7.95];
const fyAxG = [0.23, -0.18, -0.26, 0.0, -1.21, -0.68, -0.68, -0.47, -0.43, -1.46, -0.88, -0.51, -0.39, -0.26,
  -1.2, -0.4, -1.4, -0.5, -1.5, -0.5, -1.6, -0.6, -2.95, -0.6,
  -1.5, -0.7, -1.6, -0.7, -1.6, -0.8, -1.7, -0.8, -1.8, -0.9,
  -1.8, -1.0, -1.9, -1.0, -2.0, -1.05, -2.1, -1.1, -2.2, -1.15,
  -2.2, -1.2, -2.3, -1.3, -2.3, -1.35, -2.4, -1.4, -2.5, -1.5,
  -2.6, -1.6, -2.7, -1.7, -2.8, -1.8, -2.9, -1.9, -3.0, -2.0,
  -3.1, -2.1, -3.2, -2.2, -3.3, -2.3, -3.5, -2.5, -3.6, -2.6,
  -5.35, -2.8, -3.8, -3.0, -4.0, -3.2, -4.2, -3.5, -4.8, null,
  -4.9, null, -5.0, null, -5.1, null, -5.2, null, -5.3, null,
  -5.42, null, -5.5, null, -5.58, null, -5.66, null, -5.73, null,
  -5.8, null, -5.86, null, -5.92, null, -5.98, null, -6.03, null,
  -6.07, null, -6.11, null, -6.15, null, -6.18, null, -6.2, null,
  -6.22, null, -6.2];
const fyAxB = [0.11, -0.6, -1.55, -1.0, -1.09, -0.97, -0.6, -1.2, -0.8, -1.2, -1.05, -1.46, -1.21, -1.13,
  -1.2, -2.1, -1.1, -3.28, -1.1, -2.2, -1.0, -2.3, -1.0, -2.4,
  -1.2, -2.5, -1.2, -3.61, -1.3, -2.3, -1.3, -2.4, -1.35, -2.5,
  -1.4, -2.5, -1.45, -2.6, -1.5, -2.6, -1.55, -2.7, -1.6, -2.7,
  -1.7, -2.8, -1.75, -2.9, -1.8, -3.0, -1.85, -3.1, -1.9, -3.2,
  -2.0, -3.3, -2.1, -3.4, -2.2, -3.5, -2.3, -3.6, -2.4, -3.7,
  -2.5, -3.8, -6.09, -2.6, -3.9, -2.7, -4.0, -2.8, -4.3, -3.0,
  -4.3, -3.2, -3.5, -4.4, -4.6, null, -4.77, null, -4.88, null,
  -4.98, null, -5.08, null, -5.18, null, -5.27, null, -5.35, null,
  -5.45, null, -5.53, null, -5.61, null, -5.69, null, -5.76, null,
  -5.83, null, -5.89, null, -5.95, null, -6.01, null, -6.06, null,
  -6.11, null, -6.15, null, -6.19, null, -6.22, null, -6.25, null,
  -6.28, null, -6.25];
const fyAxC = [-1.13, -0.01, -0.31, -0.6, -0.39, -0.64, -0.97, -0.72, -1.42, -1.21, -1.38, -2.04, -1.55, -1.21,
  -1.5, -2.3, -1.6, -2.5, -1.6, -2.6, -1.5, -2.9, -1.7, -3.2,
  -1.8, -3.0, -1.8, -3.2, -1.9, -3.3, -2.0, -3.3, -2.0, -3.4,
  -2.1, -3.5, -2.1, -3.5, -2.2, -3.6, -2.2, -4.52, -2.3, -3.7,
  -2.4, -3.8, -2.5, -3.9, -2.6, -4.0, -2.7, -4.1, -2.8, -4.2,
  -2.9, -4.3, -3.0, -6.96, -3.1, -4.5, -3.2, -4.7, -3.4, -6.13,
  -3.5, -5.0, -3.6, -6.0, -3.8, -5.1, -4.3, -5.2, -4.6, -5.3,
  -5.35, null, -5.42, null, -5.5, null, -5.58, null, -5.66, null,
  -5.74, null, -5.82, null, -5.9, null, -5.97, null, -6.04, null,
  -6.11, null, -6.18, null, -6.25, null, -6.32, null, -6.39, null,
  -6.46, null, -6.52, null, -6.58, null, -6.64, null, -6.7, null,
  -6.75, null, -6.8, null, -6.85, null, -6.89, null, -6.93, null,
  -6.96, null, -6.95];

// -5/3 law reference segment (frequency, spectrum)
const LAW_F = [1000, 49500];
const LAW_S = [10, 0.015];

const X_DECADES = [10, 100, 1000, 10000, 100000];
const Y_DECADES = [1e-11, 1e-10, 1e-9, 1e-8, 1e-7, 1e-6, 1e-5, 1e-4, 1e-3, 1e-2, 1e-1, 1, 10];
const Y_LABELLED = [1, -2, -5, -8, -11];
const MINOR = [2, 3, 4, 5, 6, 7, 8, 9];
const X_TICKS = [...X_DECADES, ...X_DECADES.slice(0, -1).flatMap((d) => MINOR.map((m) => m * d))];
const Y_TICKS = [...Y_DECADES, ...Y_DECADES.slice(0, -1).flatMap((d) => MINOR.map((m) => m * d))];

const SERIES = [
  { key: "k", label: "0.96", color: "#000000" },
  { key: "r", label: "0.84", color: "#ff0000" },
  { key: "g", label: "0.72", color: "#00ee00" },
  { key: "b", label: "0.60", color: "#0000ee" },
  { key: "c", label: "0.48", color: "#00eeee" },
];

const F_YY = [...LF_YY, ...HF];
const F_FY = [...LF_FY, ...HF];

const PANELS = [
  { name: "Tangential", row: 0, col: 0, freq: F_YY, values: [yyTanK, yyTanR, yyTanG, yyTanB, yyTanC] },
  { name: "Radial", row: 0, col: 1, freq: F_YY, values: [yyRadK, yyRadR, yyRadG, yyRadB, yyRadC] },
  { name: "Axial", row: 0, col: 2, freq: F_YY, values: [yyAxK, yyAxR, yyAxG, yyAxB, yyAxC] },
  { name: "Tangential", row: 1, col: 0, freq: F_FY, values: [fyTanK, fyTanR, fyTanG, fyTanB, fyTanC] },
  { name: "Radial", row: 1, col: 1, freq: F_FY, values: [fyRadK, fyRadR, fyRadG, fyRadB, fyRadC] },
  { name: "Axial", row: 1, col: 2, freq: F_FY, values: [fyAxK, fyAxR, fyAxG, fyAxB, fyAxC] },
];

// layout (px)
const PLOT_LEFT = [293, 1564, 2835];
const PLOT_TOP = [161, 1267];
const PLOT_W = 873;
const PLOT_H = 705;
const Y_W = 230;
const X_H = 110;
const M_TOP = 60;
const M_RIGHT = 60;

function buildRows(freq: number[], values: (number | null)[][]) {
  return freq.map((f, i) => {
    const row: Record<string, number | null> = { f };
    SERIES.forEach((s, j) => {
      const v = values[j][i];
      row[s.key] = v == null ? null : Math.pow(10, v);
    });
    return row;
  });
}

function Pow10({ x, y, exp, anchor }: { x: number; y: number; exp: number; anchor: "middle" | "end" }) {
  const sup = exp < 0 ? `\u2212${-exp}` : `${exp}`;
  return (
    <text x={x} y={y} textAnchor={anchor} fontFamily={SERIF} fontSize={64} fill="#000">
      <tspan>10</tspan>
      <tspan fontSize={38} dy={-25}>{sup}</tspan>
    </text>
  );
}

function XTick(props: any) {
  const { x, y, payload } = props;
  const major = X_DECADES.includes(payload.value);
  const exp = Math.round(Math.log10(payload.value));
  return (
    <g>
      <line x1={x} x2={x} y1={y} y2={y - (major ? 15 : 8)} stroke="#000" strokeWidth={3} />
      {major && <Pow10 x={x} y={y + 81} exp={exp} anchor="middle" />}
    </g>
  );
}

function YTick(props: any) {
  const { x, y, payload } = props;
  const major = Y_DECADES.includes(payload.value);
  const exp = Math.round(Math.log10(payload.value));
  const labelled = major && Y_LABELLED.includes(exp);
  return (
    <g>
      <line x1={x} x2={x + (major ? 15 : 8)} y1={y} y2={y} stroke="#000" strokeWidth={3} />
      {labelled && exp === 1 && (
        <text x={x - 20} y={y + 22} textAnchor="end" fontFamily={SERIF} fontSize={64} fill="#000">
          10
        </text>
      )}
      {labelled && exp !== 1 && <Pow10 x={x - 20} y={y + 22} exp={exp} anchor="end" />}
    </g>
  );
}

function Panel({ p }: { p: (typeof PANELS)[number] }) {
  const rows = buildRows(p.freq, p.values);
  return (
    <div style={{ position: "absolute", left: PLOT_LEFT[p.col] - Y_W, top: PLOT_TOP[p.row] - M_TOP }}>
      <LineChart
        width={Y_W + PLOT_W + M_RIGHT}
        height={M_TOP + PLOT_H + X_H}
        data={rows}
        margin={{ top: M_TOP, right: M_RIGHT, bottom: 0, left: 0 }}
      >
        <XAxis
          dataKey="f"
          type="number"
          scale="log"
          domain={[10, 100000]}
          allowDataOverflow
          ticks={X_TICKS}
          interval={0}
          tickSize={0}
          tickMargin={0}
          tickLine={false}
          axisLine={false}
          height={X_H}
          tick={(t: any) => <XTick {...t} />}
        />
        <YAxis
          type="number"
          scale="log"
          domain={[1e-11, 10]}
          allowDataOverflow
          ticks={Y_TICKS}
          interval={0}
          tickSize={0}
          tickMargin={0}
          tickLine={false}
          axisLine={false}
          width={Y_W}
          tick={(t: any) => <YTick {...t} />}
        />
        <ReferenceArea x1={10} x2={100000} y1={1e-11} y2={10} fill="none" stroke="#000" strokeWidth={4} ifOverflow="visible" />
        {SERIES.map((s) => (
          <Line
            key={s.key}
            type="linear"
            dataKey={s.key}
            stroke={s.color}
            strokeWidth={4}
            strokeLinejoin="round"
            connectNulls
            dot={false}
            activeDot={false}
            isAnimationActive={false}
          />
        ))}
        <ReferenceLine
          segment={[
            { x: LAW_F[0], y: LAW_S[0] },
            { x: LAW_F[1], y: LAW_S[1] },
          ]}
          stroke="#000"
          strokeWidth={5}
        />
      </LineChart>
    </div>
  );
}

function Labels() {
  return (
    <svg width={W} height={H} style={{ position: "absolute", left: 0, top: 0, pointerEvents: "none" }} fontFamily={SERIF}>
      {SERIES.map((s, i) => {
        const x = 1104 + i * 340;
        return (
          <g key={s.key}>
            <line x1={x} x2={x + 112} y1={39} y2={39} stroke={s.color} strokeWidth={5} />
            <text x={x + 132} y={62} fontSize={66}>
              {s.label}
              <tspan fontStyle="italic">b</tspan>
            </text>
          </g>
        );
      })}
      {PANELS.map((p, i) => {
        const left = PLOT_LEFT[p.col];
        const top = PLOT_TOP[p.row];
        const bottom = top + PLOT_H;
        return (
          <g key={i}>
            <text x={left + PLOT_W - 42} y={top + 70} fontSize={65} textAnchor="end">
              {"\u22125/3 law"}
            </text>
            <text x={left + (p.row === 0 ? 65 : 47)} y={bottom - (p.row === 0 ? 46 : 31)} fontSize={64}>
              {p.name}
            </text>
            <text x={left + PLOT_W / 2} y={bottom + 167} fontSize={66} textAnchor="middle">
              Frequency
            </text>
            <text
              transform={`translate(${left - 220},${top + PLOT_H / 2}) rotate(-90)`}
              fontSize={66}
              textAnchor="middle"
            >
              Spectrum
            </text>
          </g>
        );
      })}
      <text x={2003} y={1148} fontSize={64} textAnchor="middle">
        (a) YY
      </text>
      <text x={2003} y={2253} fontSize={64} textAnchor="middle">
        (b) FY
      </text>
    </svg>
  );
}

export default function App() {
  return (
    <div
      style={{
        position: "absolute",
        left: 0,
        top: 0,
        width: W,
        height: H,
        background: "#fff",
        overflow: "hidden",
        fontFamily: SERIF,
      }}
    >
      {PANELS.map((p, i) => (
        <Panel key={i} p={p} />
      ))}
      <Labels />
    </div>
  );
}
